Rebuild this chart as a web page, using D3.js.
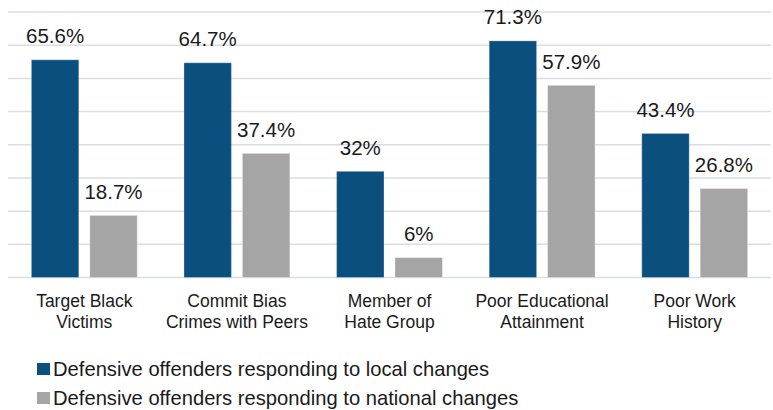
<!DOCTYPE html>
<html><head><meta charset="utf-8">
<script src="https://cdn.jsdelivr.net/npm/d3@7"></script>
<style>body{margin:0;background:#fff}svg{display:block}text{font-family:"Liberation Sans",Arial,sans-serif;fill:#1a1a1a}</style>
</head><body><svg id="c" width="773" height="410"></svg>
<script>
const categories = [["Target Black","Victims"],["Commit Bias","Crimes with Peers"],["Member of","Hate Group"],["Poor Educational","Attainment"],["Poor Work","History"]];
const localValues = [65.6, 64.7, 32, 71.3, 43.4];
const nationalValues = [18.7, 37.4, 6, 57.9, 26.8];
const valueLabels = [["65.6%","64.7%","32%","71.3%","43.4%"],["18.7%","37.4%","6%","57.9%","26.8%"]];
const seriesNames = ["Defensive offenders responding to local changes","Defensive offenders responding to national changes"];
const yTicks = [0,10,20,30,40,50,60,70,80];
const colors = ["#0b4f7e","#a5a5a5"];

const svg = d3.select("#c");
const pLeft = 8, pRight = 771, pTop = 12, pBottom = 277.5;
const x0 = d3.scaleBand().domain(d3.range(categories.length)).range([pLeft, pRight]).paddingInner(0).paddingOuter(0);
const x1 = d3.scaleBand().domain([0,1]).range([0, x0.bandwidth()]).paddingInner(0.188).paddingOuter(0.40);
const y = d3.scaleLinear().domain([0,80]).range([pBottom, pTop]);

svg.append("g").selectAll("line").data(yTicks).join("line")
  .attr("x1", pLeft).attr("x2", pRight)
  .attr("y1", d=>y(d)).attr("y2", d=>y(d))
  .attr("stroke", "#d9dee6").attr("stroke-width", 1.5);

const series = [localValues, nationalValues];
series.forEach((vals, s) => {
  const g = svg.append("g");
  g.selectAll("rect").data(vals).join("rect")
    .attr("x", (d,i)=>x0(i)+x1(s))
    .attr("width", x1.bandwidth())
    .attr("y", d=>y(d))
    .attr("height", d=>y(0)-y(d))
    .attr("fill", colors[s])
    .attr("stroke", "rgba(255,255,255,0.3)").attr("stroke-width", 1);
  g.selectAll("text").data(vals).join("text")
    .attr("x", (d,i)=>x0(i)+x1(s)+x1.bandwidth()/2)
    .attr("y", d=>y(d)-16.5)
    .attr("text-anchor","middle")
    .style("font-size","20.5px")
    .text((d,i)=>valueLabels[s][i]);
});

const cg = svg.append("g");
categories.forEach((lines, i) => {
  const t = cg.append("text").attr("text-anchor","middle").style("font-size","17.5px");
  lines.forEach((ln, k) => {
    t.append("tspan").attr("x", x0(i)+x0.bandwidth()/2).attr("y", 307 + k*21).text(ln);
  });
});

const lg = svg.append("g");
seriesNames.forEach((n, s) => {
  const by = 376 + s*29;
  lg.append("rect").attr("x", 37).attr("y", by-13).attr("width", 13).attr("height", 12).attr("fill", colors[s]);
  lg.append("text").attr("x", 53).attr("y", by).style("font-size","20.2px").text(n);
});
</script></body></html>
